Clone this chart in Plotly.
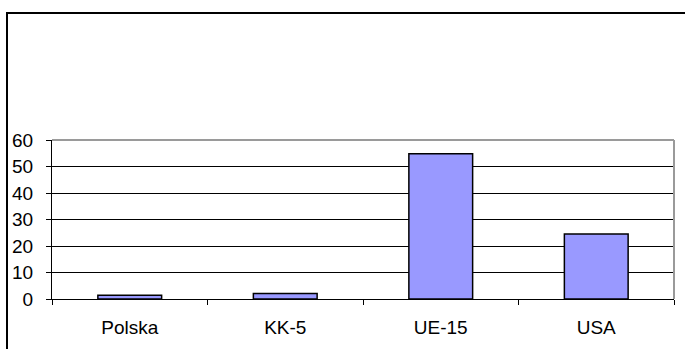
import plotly.graph_objects as go

# Regions compared and their values
categories = ["Polska", "KK-5", "UE-15", "USA"]
values = [1.4, 2.1, 54.8, 24.5]
y_ticks = [0, 10, 20, 30, 40, 50, 60]

fig = go.Figure(
    go.Bar(
        x=categories,
        y=values,
        width=0.41,
        marker=dict(color="#9999FF", line=dict(color="black", width=1.5)),
    )
)

W, H = 685, 349
ml, mr, mt, mb = 52, 11, 140, 50
pw = W - ml - mr
ph = H - mt - mb


def px_x(px):
    return (px - ml) / pw


def px_y(py):
    return (H - mb - py) / ph


fig.update_layout(
    width=W,
    height=H,
    margin=dict(l=ml, r=mr, t=mt, b=mb),
    paper_bgcolor="white",
    plot_bgcolor="white",
    showlegend=False,
    font=dict(family="Liberation Sans, Arial, sans-serif", size=19, color="black"),
    bargap=0.59,
    shapes=[
        # outer chart frame (runs off the right and bottom edges)
        dict(type="rect", xref="paper", yref="paper",
             x0=px_x(7), x1=px_x(W + 20), y0=px_y(H + 20), y1=px_y(13),
             line=dict(color="black", width=2), fillcolor="rgba(0,0,0,0)", layer="below"),
        # grey top and right edges of the plot area
        dict(type="line", xref="paper", yref="paper", x0=0, x1=1, y0=1, y1=1,
             line=dict(color="#9a9a9a", width=2)),
        dict(type="line", xref="paper", yref="paper", x0=1, x1=1, y0=0, y1=1,
             line=dict(color="#9a9a9a", width=2)),
    ],
)

fig.update_xaxes(
    showline=True, linecolor="black", linewidth=1,
    ticks="outside", ticklen=5, tickcolor="black", tickwidth=1,
    tickson="boundaries", showgrid=False,
    tickfont=dict(size=19), ticklabelstandoff=11,
)
fig.update_yaxes(
    range=[0, 60], tickvals=y_ticks,
    showline=True, linecolor="black", linewidth=1,
    ticks="outside", ticklen=5, tickcolor="black", tickwidth=1,
    showgrid=True, gridcolor="black", gridwidth=1, zeroline=False,
    tickfont=dict(size=19), ticklabelstandoff=9,
)

fig.write_html("out.html")
